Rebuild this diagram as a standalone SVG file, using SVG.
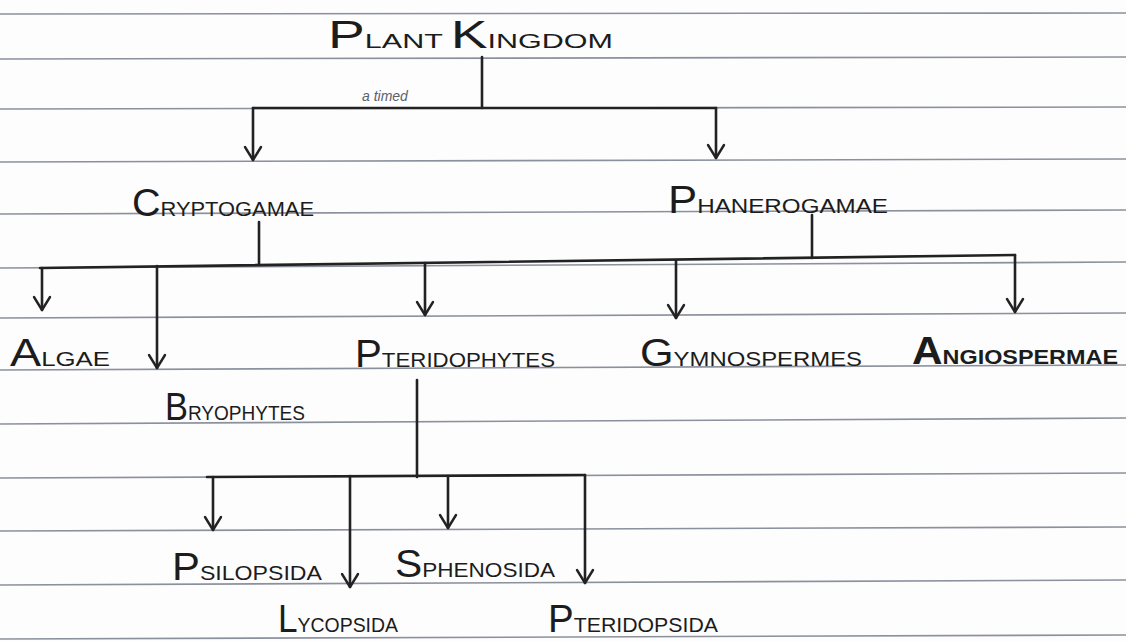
<svg xmlns="http://www.w3.org/2000/svg" width="1126" height="641" viewBox="0 0 1126 641">
<style>
.rule{stroke:#6f7686;stroke-width:1.6;opacity:0.8}
.c{stroke:#222;stroke-width:2.6;fill:none;stroke-linecap:round}
.t{font-family:"Liberation Sans",Arial,sans-serif;fill:#1c1c1c}
.b{font-size:38px}
.s{font-size:21px}
.note{font-family:"Liberation Sans",Arial,sans-serif;font-size:14px;fill:#59606e;font-style:italic}
</style>
<defs>
<marker id="ah" markerUnits="userSpaceOnUse" markerWidth="30" markerHeight="30" viewBox="-15 -15 30 30" refX="0" refY="0" orient="auto">
<path d="M-13,-8 L0,0 L-13,8" fill="none" stroke="#222" stroke-width="2.4" stroke-linecap="round" stroke-linejoin="round"/>
</marker>
</defs>
<rect width="1126" height="641" fill="#fdfdfd"/>
<g id="ruling">
<line class="rule" x1="0" y1="14" x2="1126" y2="13"/>
<line class="rule" x1="0" y1="59" x2="1126" y2="57"/>
<line class="rule" x1="0" y1="109" x2="1126" y2="107"/>
<line class="rule" x1="0" y1="162" x2="1126" y2="159"/>
<line class="rule" x1="0" y1="214" x2="1126" y2="210"/>
<line class="rule" x1="0" y1="268" x2="1126" y2="262"/>
<line class="rule" x1="0" y1="318" x2="1126" y2="313"/>
<line class="rule" x1="0" y1="370" x2="1126" y2="365"/>
<line class="rule" x1="0" y1="424" x2="1126" y2="418"/>
<line class="rule" x1="0" y1="478" x2="1126" y2="473"/>
<line class="rule" x1="0" y1="531" x2="1126" y2="527"/>
<line class="rule" x1="0" y1="585" x2="1126" y2="580"/>
<line class="rule" x1="0" y1="639" x2="1126" y2="635"/>
</g>
<g id="connectors">
<polyline class="c" points="482,57 482,108"/>
<polyline class="c" points="253,108 716,108"/>
<line class="c" x1="253" y1="108" x2="253" y2="160" marker-end="url(#ah)"/>
<line class="c" x1="716" y1="108" x2="716" y2="158" marker-end="url(#ah)"/>
<line class="c" x1="259" y1="222" x2="259" y2="265"/>
<line class="c" x1="812" y1="215" x2="812" y2="258"/>
<line class="c" x1="40" y1="268" x2="1015" y2="255"/>
<line class="c" x1="42" y1="268" x2="42" y2="310" marker-end="url(#ah)"/>
<line class="c" x1="157" y1="266" x2="157" y2="368" marker-end="url(#ah)"/>
<line class="c" x1="425" y1="263" x2="425" y2="315" marker-end="url(#ah)"/>
<line class="c" x1="676" y1="260" x2="676" y2="318" marker-end="url(#ah)"/>
<line class="c" x1="1015" y1="255" x2="1015" y2="312" marker-end="url(#ah)"/>
<line class="c" x1="417" y1="380" x2="417" y2="477"/>
<line class="c" x1="207" y1="477" x2="585" y2="475"/>
<line class="c" x1="213" y1="477" x2="213" y2="530" marker-end="url(#ah)"/>
<line class="c" x1="350" y1="476" x2="350" y2="587" marker-end="url(#ah)"/>
<line class="c" x1="448" y1="476" x2="448" y2="528" marker-end="url(#ah)"/>
<line class="c" x1="585" y1="475" x2="585" y2="583" marker-end="url(#ah)"/>
</g>
<g id="plant-kingdom">
<text class="t" x="328" y="48" textLength="285" lengthAdjust="spacingAndGlyphs"><tspan class="b">P</tspan><tspan class="s">LANT </tspan><tspan class="b">K</tspan><tspan class="s">INGDOM</tspan></text>
<text class="note" x="362" y="101">a timed</text>
</g>
<g id="cryptogamae">
<text class="t" x="132" y="216" textLength="182" lengthAdjust="spacingAndGlyphs"><tspan class="b">C</tspan><tspan class="s">RYPTOGAMAE</tspan></text>
</g>
<g id="phanerogamae">
<text class="t" x="668" y="213" textLength="220" lengthAdjust="spacingAndGlyphs"><tspan class="b">P</tspan><tspan class="s">HANEROGAMAE</tspan></text>
</g>
<g id="algae">
<text class="t" x="10" y="366" textLength="100" lengthAdjust="spacingAndGlyphs"><tspan class="b">A</tspan><tspan class="s">LGAE</tspan></text>
</g>
<g id="bryophytes">
<text class="t" x="165" y="420" textLength="140" lengthAdjust="spacingAndGlyphs"><tspan class="b">B</tspan><tspan class="s">RYOPHYTES</tspan></text>
</g>
<g id="pteridophytes">
<text class="t" x="355" y="367" textLength="200" lengthAdjust="spacingAndGlyphs"><tspan class="b">P</tspan><tspan class="s">TERIDOPHYTES</tspan></text>
</g>
<g id="gymnospermes">
<text class="t" x="640" y="366" textLength="222" lengthAdjust="spacingAndGlyphs"><tspan class="b">G</tspan><tspan class="s">YMNOSPERMES</tspan></text>
</g>
<g id="angiospermae">
<text class="t" x="912" y="364" textLength="206" lengthAdjust="spacingAndGlyphs" font-weight="bold"><tspan class="b">A</tspan><tspan class="s">NGIOSPERMAE</tspan></text>
</g>
<g id="psilopsida">
<text class="t" x="172" y="580" textLength="150" lengthAdjust="spacingAndGlyphs"><tspan class="b">P</tspan><tspan class="s">SILOPSIDA</tspan></text>
</g>
<g id="sphenosida">
<text class="t" x="395" y="577" textLength="160" lengthAdjust="spacingAndGlyphs"><tspan class="b">S</tspan><tspan class="s">PHENOSIDA</tspan></text>
</g>
<g id="lycopsida">
<text class="t" x="278" y="632" textLength="120" lengthAdjust="spacingAndGlyphs"><tspan class="b">L</tspan><tspan class="s">YCOPSIDA</tspan></text>
</g>
<g id="pteridopsida">
<text class="t" x="548" y="632" textLength="170" lengthAdjust="spacingAndGlyphs"><tspan class="b">P</tspan><tspan class="s">TERIDOPSIDA</tspan></text>
</g>
</svg>
